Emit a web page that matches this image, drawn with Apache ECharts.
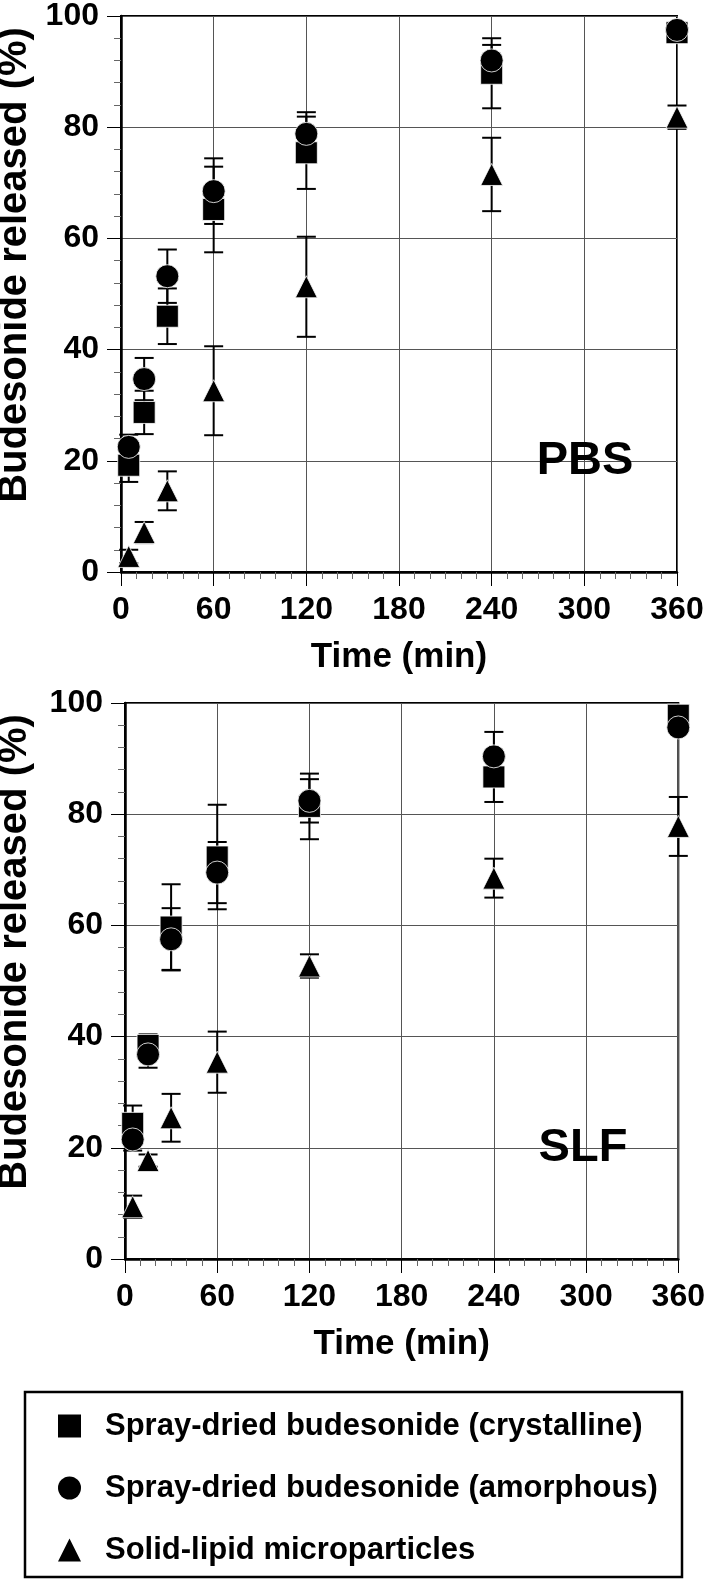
<!DOCTYPE html>
<html>
<head>
<meta charset="utf-8">
<script src="https://cdn.jsdelivr.net/npm/echarts@6/dist/echarts.min.js"></script>
<style>
html,body{margin:0;padding:0;background:#fff;}
#chart{width:708px;height:1579px;}
</style>
</head>
<body>
<div id="chart"></div>
<script>
// ---- data ----
const times = [5, 15, 30, 60, 120, 240, 360];
const xTicks = [0, 60, 120, 180, 240, 300, 360];
const yTicks = [0, 20, 40, 60, 80, 100];
const seriesNames = ['Spray-dried budesonide (crystalline)', 'Spray-dried budesonide (amorphous)', 'Solid-lipid microparticles'];
const yTitle = 'Budesonide released (%)';
const xTitle = 'Time (min)';
const panelLabels = ['PBS', 'SLF'];

// PBS
const pbsCryst = [19.2, 28.7, 46.0, 65.2, 75.4, 89.7, 97.0];
const pbsCrystErr = [3.0, 3.9, 5.0, 7.7, 6.5, 6.3, 0];
const pbsAmorph = [22.5, 34.7, 53.2, 68.5, 78.8, 92.0, 97.5];
const pbsAmorphErr = [2.2, 3.8, 4.8, 5.9, 3.9, 2.8, 0];
const pbsSLM = [2.8, 7.1, 14.6, 32.6, 51.3, 71.5, 81.8];
const pbsSLMErr = [1.2, 1.9, 3.5, 8.0, 9.0, 6.6, 2.1];

// SLF
const slfCryst = [24.4, 38.4, 59.7, 72.3, 81.4, 86.7, 97.8];
const slfCrystErr = [3.2, 2.0, 7.7, 9.4, 5.9, 4.5, 0];
const slfAmorph = [21.5, 36.8, 57.5, 69.5, 82.4, 90.4, 95.6];
const slfAmorphErr = [2.0, 2.4, 5.6, 5.5, 3.9, 4.4, 0];
const slfSLM = [9.4, 17.7, 25.4, 35.4, 52.7, 68.5, 77.8];
const slfSLMErr = [2.0, 1.1, 4.3, 5.5, 2.1, 3.5, 5.3];

// ---- chart ----
const FONT = '"Liberation Sans", Arial, Helvetica, sans-serif';
const chart = echarts.init(document.getElementById('chart'), null, {renderer: 'canvas'});

function pts(vals) { return times.map((t, i) => [t, vals[i]]); }
function errPts(vals, errs) { return times.map((t, i) => [t, vals[i], errs[i]]); }

function renderErr(params, api) {
  const x = api.value(0), y = api.value(1), e = api.value(2);
  if (!e) return null;
  const top = api.coord([x, y + e]);
  const bot = api.coord([x, y - e]);
  const hw = 9.5;
  const st = {stroke: '#000', lineWidth: 2};
  return {
    type: 'group',
    children: [
      {type: 'line', shape: {x1: top[0], y1: top[1], x2: bot[0], y2: bot[1]}, style: st},
      {type: 'line', shape: {x1: top[0] - hw, y1: top[1], x2: top[0] + hw, y2: top[1]}, style: st},
      {type: 'line', shape: {x1: bot[0] - hw, y1: bot[1], x2: bot[0] + hw, y2: bot[1]}, style: st}
    ]
  };
}

function xAxisDef(gi) {
  return {
    type: 'value', gridIndex: gi, min: 0, max: 360, interval: 60,
    name: xTitle, nameLocation: 'middle', nameGap: 68,
    nameTextStyle: {fontSize: 35, fontWeight: 'bold', color: '#000', fontFamily: FONT},
    axisLine: {show: true, onZero: false, lineStyle: {color: '#000', width: 2.5}},
    axisTick: {show: true, inside: false, length: 14, lineStyle: {color: '#000', width: 1}},
    minorTick: {show: true, splitNumber: 6, length: 7, lineStyle: {color: '#666', width: 1}},
    axisLabel: {fontSize: 32, fontWeight: 'bold', color: '#000', fontFamily: FONT, margin: 22,
      formatter: v => xTicks.includes(v) ? String(v) : ''},
    splitLine: {show: true, lineStyle: {color: '#555', width: 1}}
  };
}
function yAxisDef(gi) {
  return {
    type: 'value', gridIndex: gi, min: 0, max: 100, interval: 20,
    axisLine: {show: true, onZero: false, lineStyle: {color: '#000', width: 2.5}},
    axisTick: {show: true, inside: false, length: 14, lineStyle: {color: '#000', width: 1}},
    minorTick: {show: true, splitNumber: 5, length: 7, lineStyle: {color: '#666', width: 1}},
    axisLabel: {fontSize: 32, fontWeight: 'bold', color: '#000', fontFamily: FONT, margin: 22,
      formatter: v => yTicks.includes(v) ? String(v) : ''},
    splitLine: {show: true, lineStyle: {color: '#555', width: 1}}
  };
}

const symbols = ['rect', 'circle', 'triangle'];
const sizes = [22, 23, 22];
const datasets = [
  [[pbsCryst, pbsCrystErr], [pbsAmorph, pbsAmorphErr], [pbsSLM, pbsSLMErr]],
  [[slfCryst, slfCrystErr], [slfAmorph, slfAmorphErr], [slfSLM, slfSLMErr]]
];

const series = [];
datasets.forEach((ds, gi) => {
  ds.forEach((pair, si) => {
    series.push({
      type: 'custom', xAxisIndex: gi, yAxisIndex: gi, renderItem: renderErr,
      data: errPts(pair[0], pair[1]), silent: true, z: 2, clip: false
    });
  });
  ds.forEach((pair, si) => {
    series.push({
      type: 'scatter', name: seriesNames[si], xAxisIndex: gi, yAxisIndex: gi,
      symbol: symbols[si], symbolSize: sizes[si], data: pts(pair[0]), clip: false,
      itemStyle: {color: '#000', borderColor: '#fff', borderWidth: 0.8, opacity: 1},
      z: 3 + si
    });
  });
});

const titleStyle = {font: 'bold 40px ' + FONT, fill: '#000', textAlign: 'center', textVerticalAlign: 'middle'};

chart.setOption({
  animation: false,
  backgroundColor: '#fff',
  grid: [
    {left: 121, top: 16, width: 556, height: 556, show: true, borderColor: '#000', borderWidth: 2},
    {left: 125, top: 703, width: 556, height: 556, show: true, borderColor: '#000', borderWidth: 2}
  ],
  xAxis: [xAxisDef(0), xAxisDef(1)],
  yAxis: [yAxisDef(0), yAxisDef(1)],
  legend: {
    orient: 'vertical', left: 53, top: 1403, height: 175,
    data: seriesNames,
    itemWidth: 23, itemHeight: 23, itemGap: 26,
    selectedMode: false,
    textStyle: {fontSize: 31, fontWeight: 'bold', color: '#000', fontFamily: FONT,
      lineHeight: 36, padding: [0, 0, 0, 19]},
    itemStyle: {borderWidth: 0}
  },
  graphic: [
    {type: 'rect', shape: {x: 25, y: 1392, width: 657, height: 185},
      style: {fill: 'none', stroke: '#000', lineWidth: 2.5}, z: 10},
    {type: 'text', x: 585, y: 461, style: {text: panelLabels[0], textAlign: 'center', textVerticalAlign: 'middle',
      font: 'bold 47px ' + FONT, fill: '#000'}, z: 10},
    {type: 'text', x: 583, y: 1148, style: {text: panelLabels[1], textAlign: 'center', textVerticalAlign: 'middle',
      font: 'bold 47px ' + FONT, fill: '#000'}, z: 10},
    {type: 'text', x: 15, y: 265, rotation: Math.PI / 2, style: Object.assign({text: yTitle}, titleStyle), z: 10},
    {type: 'text', x: 15, y: 952, rotation: Math.PI / 2, style: Object.assign({text: yTitle}, titleStyle), z: 10}
  ],
  series: series
});
</script>
</body>
</html>
